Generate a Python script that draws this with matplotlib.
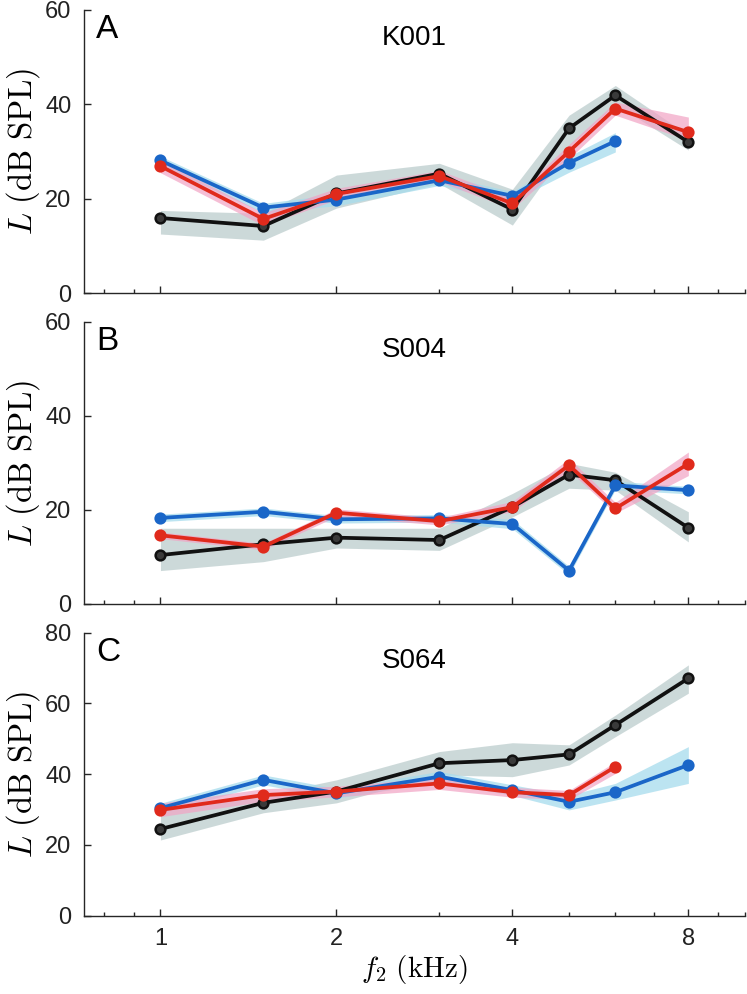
import numpy as np
import matplotlib
matplotlib.use('Agg')
from matplotlib import pyplot as plt
from matplotlib.ticker import FixedLocator, NullFormatter

plt.rcParams['font.family'] = ['Liberation Sans', 'DejaVu Sans']
plt.rcParams['mathtext.fontset'] = 'cm'

f2 = [1, 1.5, 2, 3, 4, 5, 6, 8]
x_ticks = [1, 2, 4, 8]
x_tick_labels = ['1', '2', '4', '8']
x_minor = [0.8, 0.9, 3, 5, 6, 7, 9, 10]

panel_letters = ['A', 'B', 'C']
subjects = ['K001', 'S004', 'S064']
y_max = [60, 60, 80]
y_ticks = [[0, 20, 40, 60], [0, 20, 40, 60], [0, 20, 40, 60, 80]]

# K001
a_black = [15.9, 14.2, 21.1, 25.3, 17.7, 34.9, 41.9, 32.0]
a_black_lo = [12.5, 11.2, 18.0, 23.2, 14.4, 31.0, 40.0, 30.3]
a_black_hi = [17.5, 16.9, 25.0, 27.5, 22.0, 37.7, 44.0, 33.5]
a_blue = [28.1, 18.1, 19.8, 23.9, 20.6, 27.6, 32.2]
a_blue_lo = [27.0, 17.0, 18.5, 22.8, 19.5, 25.6, 29.9]
a_blue_hi = [29.0, 19.0, 21.0, 25.0, 21.5, 29.0, 34.0]
a_red = [26.9, 15.7, 21.0, 24.8, 19.0, 30.0, 39.1, 34.1]
a_red_lo = [25.5, 14.3, 19.8, 23.6, 17.8, 28.5, 37.7, 32.4]
a_red_hi = [28.2, 17.0, 22.2, 26.0, 20.2, 31.5, 40.5, 37.3]

# S004
b_black = [10.4, 12.7, 14.1, 13.6, 20.6, 27.5, 26.3, 16.2]
b_black_lo = [7.1, 9.0, 11.9, 11.4, 18.5, 24.6, 24.2, 13.2]
b_black_hi = [16.1, 16.1, 16.1, 16.1, 23.5, 29.9, 28.0, 19.6]
b_blue = [18.3, 19.6, 18.0, 18.2, 17.0, 7.1, 25.2, 24.2]
b_blue_lo = [17.5, 18.8, 17.2, 17.4, 16.0, 6.2, 24.3, 23.4]
b_blue_hi = [19.1, 20.4, 18.8, 19.0, 18.0, 8.0, 26.1, 25.0]
b_red = [14.6, 12.2, 19.4, 17.6, 20.6, 29.5, 20.3, 29.8]
b_red_lo = [13.9, 11.5, 18.6, 16.8, 19.6, 28.4, 19.3, 27.3]
b_red_hi = [15.3, 12.9, 20.2, 18.4, 21.8, 30.9, 21.6, 32.3]

# S064
c_black = [24.5, 31.9, 35.1, 43.1, 44.0, 45.6, 53.9, 67.1]
c_black_lo = [21.4, 29.1, 31.9, 39.8, 39.3, 42.6, 50.6, 62.9]
c_black_hi = [30.4, 34.1, 38.4, 46.4, 48.9, 48.3, 56.7, 70.9]
c_blue = [30.4, 38.4, 34.6, 39.3, 35.5, 32.2, 34.9, 42.6]
c_blue_lo = [29.0, 37.0, 33.2, 37.8, 34.0, 29.9, 32.7, 37.4]
c_blue_hi = [31.8, 39.8, 36.0, 40.8, 37.0, 34.1, 37.4, 47.8]
c_red = [29.9, 34.1, 35.1, 37.4, 34.9, 34.1, 42.1]
c_red_lo = [28.0, 32.3, 33.6, 35.7, 33.5, 32.8, 40.2]
c_red_hi = [31.8, 35.9, 36.6, 39.1, 36.3, 35.4, 43.5]

panels = [
    [(a_black, a_black_lo, a_black_hi), (a_blue, a_blue_lo, a_blue_hi), (a_red, a_red_lo, a_red_hi)],
    [(b_black, b_black_lo, b_black_hi), (b_blue, b_blue_lo, b_blue_hi), (b_red, b_red_lo, b_red_hi)],
    [(c_black, c_black_lo, c_black_hi), (c_blue, c_blue_lo, c_blue_hi), (c_red, c_red_lo, c_red_hi)],
]

line_colors = ['#111111', '#1a66c8', '#e02a1c']
face_colors = ['#3a3a3a', '#1a66c8', '#e02a1c']
band_colors = ['#c4d3d3', '#a6dced', '#f2a3c4']
band_alpha = [0.85, 0.75, 0.7]

ax_bounds = [(10, 293), (321.7, 604), (632.7, 915.7)]
W, H = 747, 994

fig = plt.figure(figsize=(W / 100, H / 100), dpi=100)
for i in range(3):
    top, bot = ax_bounds[i]
    ax = fig.add_axes([84 / W, 1 - bot / H, (745 - 84) / W, (bot - top) / H])

    # shaded bands under the lines
    for k in range(3):
        y, lo, hi = panels[i][k]
        xs = f2[:len(y)]
        ax.fill_between(xs, lo, hi, color=band_colors[k], alpha=band_alpha[k],
                        linewidth=0, zorder=1 + k * 0.1)
    for k in range(3):
        y, lo, hi = panels[i][k]
        xs = f2[:len(y)]
        ax.plot(xs, y, color=line_colors[k], linewidth=2.7, marker='o', markersize=7,
                markerfacecolor=face_colors[k], markeredgecolor=line_colors[k],
                markeredgewidth=1.8, zorder=3 + k * 0.1)

    ax.set_xscale('log')
    ax.set_xlim(0.74, 10)
    ax.set_ylim(0, y_max[i])
    ax.xaxis.set_major_locator(FixedLocator(x_ticks))
    ax.xaxis.set_minor_locator(FixedLocator(x_minor))
    ax.xaxis.set_minor_formatter(NullFormatter())
    ax.set_yticks(y_ticks[i])
    if i == 2:
        ax.set_xticklabels(x_tick_labels)
        ax.set_xlabel(r'$f_2\ \mathrm{(kHz)}$', fontsize=21, labelpad=2)
    else:
        ax.set_xticklabels([])
    ax.set_ylabel(r'$L\ \mathrm{(dB\ SPL)}$', fontsize=23.5, labelpad=2)

    for s in ['top', 'right']:
        ax.spines[s].set_visible(False)
    for s in ['left', 'bottom']:
        ax.spines[s].set_color('#262626')
        ax.spines[s].set_linewidth(1.0)
    ax.tick_params(which='major', direction='in', length=5, width=1.0, colors='#262626',
                   labelsize=17, labelcolor='#222222', pad=9)
    ax.tick_params(which='minor', direction='in', length=3, width=1.0, colors='#262626')

    ax.text(12 / 661, 1 - 4 / 283, panel_letters[i], transform=ax.transAxes, fontsize=24,
            ha='left', va='top', color='black')
    ax.text(0.5, 0.9, subjects[i], transform=ax.transAxes, fontsize=20,
            ha='center', va='center', color='black')

plt.savefig('out.png', dpi=100)
plt.close()
